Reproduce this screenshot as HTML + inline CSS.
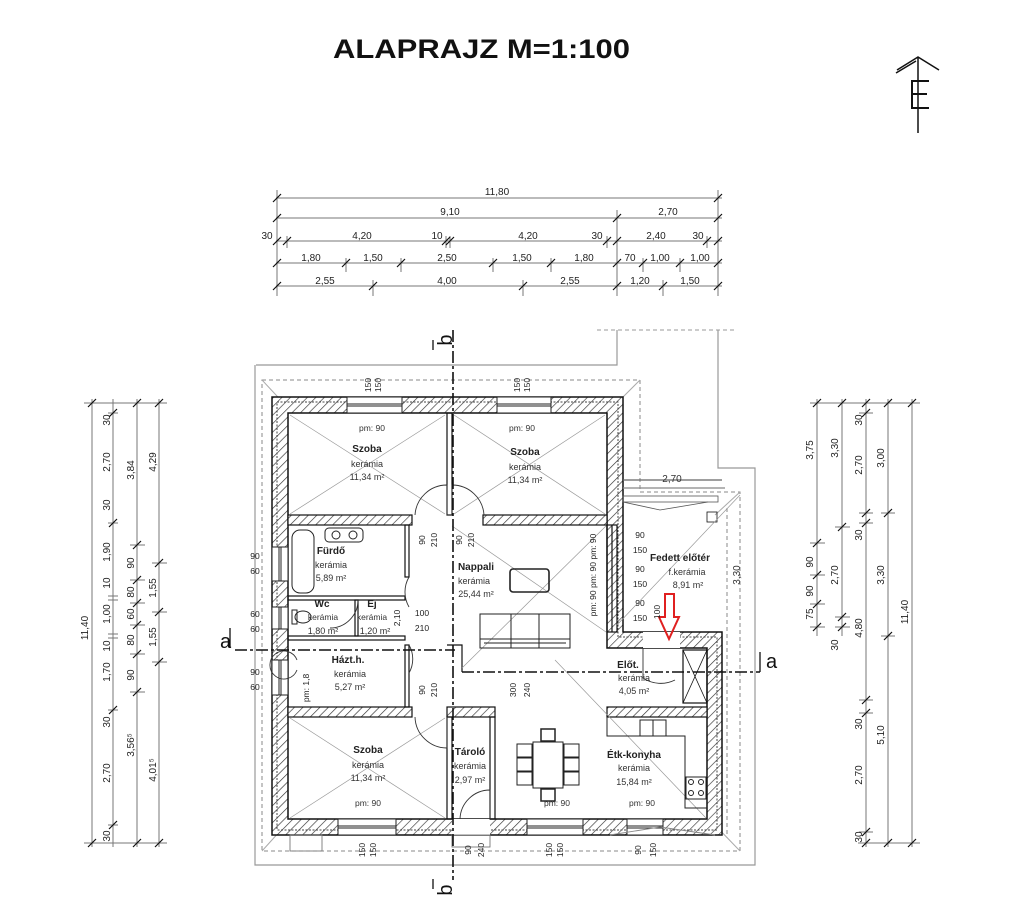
<!DOCTYPE html>
<html><head><meta charset="utf-8"><style>
html,body{margin:0;padding:0;background:#fff;}
svg{display:block;}
text{font-family:"Liberation Sans",sans-serif;fill:#222;}
.d{font-size:10px;fill:#333;}
.r{font-size:9px;fill:#333;}
.n{font-size:10px;font-weight:bold;fill:#222;}
.s{font-size:8.5px;fill:#333;}
</style></head><body>
<svg width="1024" height="915" viewBox="0 0 1024 915" xmlns="http://www.w3.org/2000/svg">
<defs>
<pattern id="h" patternUnits="userSpaceOnUse" width="6" height="6" patternTransform="rotate(45)">
<rect width="6" height="6" fill="#fff"/><line x1="0" y1="0" x2="0" y2="6" stroke="#333" stroke-width="1.3"/>
</pattern>
</defs>
<rect width="1024" height="915" fill="#fff"/>
<!-- title -->
<text x="333" y="58" font-size="27" font-weight="bold" textLength="297" lengthAdjust="spacingAndGlyphs" style="fill:#111">ALAPRAJZ M=1:100</text>
<!-- north sign -->
<g stroke="#111" fill="none" stroke-width="2">
<line x1="918" y1="57" x2="918" y2="133" stroke-width="1.5"/>
<polyline points="897,70 918,57 939,70" stroke-width="1.5"/>
<line x1="896" y1="73" x2="916" y2="61" stroke-width="1.5"/>
<polyline points="929,81 912,81 912,108 929,108"/><line x1="912" y1="94" x2="927" y2="94"/>
</g>

<!-- top dims -->
<g stroke="#777" stroke-width="1" fill="none">
<line x1="276" y1="198" x2="722" y2="198"/>
<line x1="276" y1="218" x2="722" y2="218"/>
<line x1="276" y1="241" x2="722" y2="241"/>
<line x1="276" y1="263" x2="722" y2="263"/>
<line x1="276" y1="286" x2="722" y2="286"/>
<line x1="277" y1="190" x2="277" y2="296"/><line x1="718" y1="190" x2="718" y2="296"/>
<line x1="617" y1="210" x2="617" y2="296"/>
<line x1="287" y1="236" x2="287" y2="248"/><line x1="446" y1="236" x2="446" y2="248"/><line x1="450" y1="236" x2="450" y2="248"/><line x1="607" y1="236" x2="607" y2="248"/><line x1="707" y1="236" x2="707" y2="248"/>
<line x1="346" y1="258" x2="346" y2="272"/><line x1="401" y1="258" x2="401" y2="272"/><line x1="493" y1="258" x2="493" y2="272"/><line x1="551" y1="258" x2="551" y2="272"/><line x1="643" y1="258" x2="643" y2="272"/><line x1="680" y1="258" x2="680" y2="272"/>
<line x1="373" y1="280" x2="373" y2="296"/><line x1="523" y1="280" x2="523" y2="296"/><line x1="663" y1="280" x2="663" y2="296"/>
</g>
<g stroke="#111" stroke-width="1.2">
<path d="M273,202l8,-8M714,202l8,-8M273,222l8,-8M613,222l8,-8M714,222l8,-8M273,245l8,-8M283,245l8,-8M442,245l8,-8M446,245l8,-8M603,245l8,-8M613,245l8,-8M703,245l8,-8M714,245l8,-8M273,267l8,-8M342,267l8,-8M397,267l8,-8M489,267l8,-8M547,267l8,-8M613,267l8,-8M639,267l8,-8M676,267l8,-8M714,267l8,-8M273,290l8,-8M369,290l8,-8M519,290l8,-8M613,290l8,-8M659,290l8,-8M714,290l8,-8"/>
</g>
<g class="d" text-anchor="middle">
<text x="497" y="195">11,80</text>
<text x="450" y="215">9,10</text><text x="668" y="215">2,70</text>
<text x="267" y="239">30</text><text x="362" y="239">4,20</text><text x="437" y="239">10</text><text x="528" y="239">4,20</text><text x="597" y="239">30</text><text x="656" y="239">2,40</text><text x="698" y="239">30</text>
<text x="311" y="261">1,80</text><text x="373" y="261">1,50</text><text x="447" y="261">2,50</text><text x="522" y="261">1,50</text><text x="584" y="261">1,80</text><text x="630" y="261">70</text><text x="660" y="261">1,00</text><text x="700" y="261">1,00</text>
<text x="325" y="284">2,55</text><text x="447" y="284">4,00</text><text x="570" y="284">2,55</text><text x="640" y="284">1,20</text><text x="690" y="284">1,50</text>
</g>

<!-- left dims -->
<g stroke="#777" stroke-width="1">
<line x1="92" y1="399" x2="92" y2="847"/><line x1="113" y1="399" x2="113" y2="847"/><line x1="137" y1="399" x2="137" y2="847"/><line x1="159" y1="399" x2="159" y2="847"/>
<line x1="84" y1="403" x2="167" y2="403"/><line x1="84" y1="843" x2="167" y2="843"/>
<line x1="108" y1="413" x2="118" y2="413"/><line x1="108" y1="523" x2="118" y2="523"/><line x1="108" y1="596" x2="118" y2="596"/><line x1="108" y1="600" x2="118" y2="600"/><line x1="108" y1="634" x2="118" y2="634"/><line x1="108" y1="638" x2="118" y2="638"/><line x1="108" y1="710" x2="118" y2="710"/><line x1="108" y1="825" x2="118" y2="825"/>
<line x1="130" y1="545" x2="145" y2="545"/><line x1="130" y1="580" x2="145" y2="580"/><line x1="130" y1="603" x2="145" y2="603"/><line x1="130" y1="625" x2="145" y2="625"/><line x1="130" y1="654" x2="145" y2="654"/><line x1="130" y1="692" x2="145" y2="692"/>
<line x1="152" y1="563" x2="167" y2="563"/><line x1="152" y1="612" x2="167" y2="612"/><line x1="152" y1="662" x2="167" y2="662"/>
</g>
<g stroke="#111" stroke-width="1.2">
<path d="M88,407l8,-8M88,847l8,-8M109,417l8,-8M109,527l8,-8M109,714l8,-8M109,829l8,-8M133,407l8,-8M133,847l8,-8M155,407l8,-8M155,847l8,-8M133,549l8,-8M133,584l8,-8M133,607l8,-8M133,629l8,-8M133,658l8,-8M133,696l8,-8M155,567l8,-8M155,616l8,-8M155,666l8,-8"/>
</g>
<g class="d" text-anchor="middle">
<text transform="translate(88,628) rotate(-90)">11,40</text>
<text transform="translate(110,420) rotate(-90)">30</text><text transform="translate(110,462) rotate(-90)">2,70</text><text transform="translate(110,505) rotate(-90)">30</text><text transform="translate(110,552) rotate(-90)">1,90</text><text transform="translate(110,583) rotate(-90)">10</text><text transform="translate(110,614) rotate(-90)">1,00</text><text transform="translate(110,646) rotate(-90)">10</text><text transform="translate(110,672) rotate(-90)">1,70</text><text transform="translate(110,722) rotate(-90)">30</text><text transform="translate(110,773) rotate(-90)">2,70</text><text transform="translate(110,836) rotate(-90)">30</text>
<text transform="translate(134,470) rotate(-90)">3,84</text><text transform="translate(134,563) rotate(-90)">90</text><text transform="translate(134,592) rotate(-90)">80</text><text transform="translate(134,614) rotate(-90)">60</text><text transform="translate(134,640) rotate(-90)">80</text><text transform="translate(134,675) rotate(-90)">90</text><text transform="translate(134,745) rotate(-90)">3,56⁵</text>
<text transform="translate(156,462) rotate(-90)">4,29</text><text transform="translate(156,588) rotate(-90)">1,55</text><text transform="translate(156,637) rotate(-90)">1,55</text><text transform="translate(156,770) rotate(-90)">4,01⁵</text>
</g>

<!-- right dims -->
<g stroke="#777" stroke-width="1">
<line x1="817" y1="399" x2="817" y2="636"/><line x1="842" y1="399" x2="842" y2="636"/><line x1="866" y1="399" x2="866" y2="847"/><line x1="888" y1="399" x2="888" y2="847"/><line x1="912" y1="399" x2="912" y2="847"/>
<line x1="810" y1="403" x2="920" y2="403"/><line x1="858" y1="843" x2="920" y2="843"/>
<line x1="810" y1="543" x2="825" y2="543"/><line x1="810" y1="575" x2="825" y2="575"/><line x1="810" y1="604" x2="825" y2="604"/><line x1="810" y1="627" x2="825" y2="627"/>
<line x1="835" y1="527" x2="850" y2="527"/><line x1="835" y1="617" x2="850" y2="617"/><line x1="835" y1="627" x2="850" y2="627"/>
<line x1="859" y1="413" x2="873" y2="413"/><line x1="859" y1="513" x2="873" y2="513"/><line x1="859" y1="523" x2="873" y2="523"/><line x1="859" y1="700" x2="873" y2="700"/><line x1="859" y1="713" x2="873" y2="713"/><line x1="859" y1="832" x2="873" y2="832"/>
<line x1="881" y1="513" x2="895" y2="513"/><line x1="881" y1="636" x2="895" y2="636"/>
</g>
<g stroke="#111" stroke-width="1.2">
<path d="M813,407l8,-8M813,547l8,-8M813,579l8,-8M813,608l8,-8M813,631l8,-8M838,407l8,-8M838,531l8,-8M838,621l8,-8M838,631l8,-8M862,407l8,-8M862,417l8,-8M862,517l8,-8M862,527l8,-8M862,704l8,-8M862,717l8,-8M862,836l8,-8M862,847l8,-8M884,407l8,-8M884,517l8,-8M884,640l8,-8M884,847l8,-8M908,407l8,-8M908,847l8,-8"/>
</g>
<g class="d" text-anchor="middle">
<text transform="translate(813,450) rotate(-90)">3,75</text><text transform="translate(813,562) rotate(-90)">90</text><text transform="translate(813,591) rotate(-90)">90</text><text transform="translate(813,614) rotate(-90)">75</text>
<text transform="translate(838,448) rotate(-90)">3,30</text><text transform="translate(838,575) rotate(-90)">2,70</text><text transform="translate(838,645) rotate(-90)">30</text>
<text transform="translate(862,420) rotate(-90)">30</text><text transform="translate(862,465) rotate(-90)">2,70</text><text transform="translate(862,535) rotate(-90)">30</text><text transform="translate(862,628) rotate(-90)">4,80</text><text transform="translate(862,724) rotate(-90)">30</text><text transform="translate(862,775) rotate(-90)">2,70</text><text transform="translate(862,837) rotate(-90)">30</text>
<text transform="translate(884,458) rotate(-90)">3,00</text><text transform="translate(884,575) rotate(-90)">3,30</text><text transform="translate(884,735) rotate(-90)">5,10</text>
<text transform="translate(908,612) rotate(-90)">11,40</text>
</g>

<!-- plot outline -->
<path d="M256,365 H617 V330 M718,330 V468 H755 V865 H255 V365" fill="none" stroke="#999" stroke-width="1.2"/>
<line x1="597" y1="330" x2="735" y2="330" stroke="#999" stroke-dasharray="4,3"/>
<!-- roof dashed -->
<g fill="none" stroke="#888" stroke-width="1" stroke-dasharray="4,3">
<path d="M262,380 H640 V492 H740 V851 H262 Z"/>
<path d="M290,410 H610 M727,508 V838 M288,820 H710"/>
</g>
<g stroke="#aaa" stroke-width="1" fill="none">
<line x1="262" y1="380" x2="290" y2="410"/><line x1="640" y1="380" x2="610" y2="410"/><line x1="262" y1="851" x2="290" y2="820"/><line x1="740" y1="851" x2="712" y2="822"/>
<line x1="740" y1="492" x2="715" y2="515"/>
</g>

<!-- outer walls -->
<path d="M272,397 H623 V632 H722 V835 H272 Z M288,413 V819 H707 V648 H607 V413 Z" fill="url(#h)" fill-rule="evenodd" stroke="#111" stroke-width="1.5"/>
<path d="M277,402 H618 V637 H717 V830 H277 Z" fill="none" stroke="#444" stroke-width="1" stroke-dasharray="2,1.5"/>
<!-- windows top -->
<g fill="#fff" stroke="#222" stroke-width="1">
<rect x="347" y="397" width="55" height="16"/><line x1="347" y1="404" x2="402" y2="404"/><line x1="347" y1="406" x2="402" y2="406"/>
<rect x="497" y="397" width="54" height="16"/><line x1="497" y1="404" x2="551" y2="404"/><line x1="497" y1="406" x2="551" y2="406"/>
<rect x="272" y="547" width="16" height="34"/><line x1="279" y1="547" x2="279" y2="581"/><line x1="281" y1="547" x2="281" y2="581"/>
<rect x="272" y="607" width="16" height="22"/><line x1="279" y1="607" x2="279" y2="629"/><line x1="281" y1="607" x2="281" y2="629"/>
<rect x="272" y="660" width="16" height="35"/><line x1="279" y1="660" x2="279" y2="695"/><line x1="281" y1="660" x2="281" y2="695"/>
<rect x="338" y="819" width="58" height="16"/><line x1="338" y1="826" x2="396" y2="826"/><line x1="338" y1="828" x2="396" y2="828"/>
<rect x="527" y="819" width="56" height="16"/><line x1="527" y1="826" x2="583" y2="826"/><line x1="527" y1="828" x2="583" y2="828"/>
<rect x="627" y="819" width="36" height="16"/><line x1="627" y1="826" x2="663" y2="826"/><line x1="627" y1="828" x2="663" y2="828"/>
<rect x="452" y="819" width="38" height="16" stroke="none"/>
<rect x="643" y="632" width="37" height="16" stroke="none"/>
</g>
<!-- interior hatched walls -->
<g fill="url(#h)" stroke="#111" stroke-width="1.2">
<rect x="288" y="515" width="124" height="10"/>
<rect x="483" y="515" width="124" height="10"/>
<rect x="288" y="707" width="124" height="10"/>
<rect x="447" y="707" width="48" height="10"/>
<rect x="607" y="707" width="100" height="10"/>
</g>
<g fill="none" stroke="#111" stroke-width="1.2">
<rect x="447" y="413" width="5" height="102"/>
<rect x="405" y="525" width="4" height="52"/><rect x="405" y="645" width="4" height="62"/>
<rect x="288" y="596" width="117" height="4"/>
<rect x="288" y="636" width="117" height="4"/>
<rect x="355" y="600" width="3" height="36"/>
<rect x="447" y="717" width="5" height="102"/><rect x="490" y="717" width="5" height="102"/>
<rect x="607" y="525" width="10" height="107"/>
<line x1="612" y1="525" x2="612" y2="632"/>
<polyline points="447,645 462,645 462,672"/>
<rect x="683" y="650" width="24" height="53"/>
<line x1="683" y1="650" x2="707" y2="703" stroke-width="0.8"/><line x1="707" y1="650" x2="683" y2="703" stroke-width="0.8"/>
<!-- fedett canopy -->
<line x1="623" y1="488" x2="725" y2="488" stroke="#888"/>
<rect x="623" y="496" width="95" height="6" stroke="#555" stroke-width="0.8"/>
<polyline points="623,502 660,510 708,502" stroke="#555" stroke-width="0.8"/>
<rect x="707" y="512" width="10" height="10" stroke-width="0.8"/>
<line x1="623" y1="480" x2="722" y2="480" stroke="#666"/>
</g>
<!-- room diagonals -->
<g stroke="#999" stroke-width="0.7" fill="none">
<line x1="290" y1="415" x2="445" y2="514"/><line x1="445" y1="415" x2="290" y2="514"/>
<line x1="454" y1="415" x2="605" y2="514"/><line x1="605" y1="415" x2="454" y2="514"/>
<line x1="290" y1="718" x2="445" y2="818"/><line x1="445" y1="718" x2="290" y2="818"/>
<line x1="452" y1="526" x2="606" y2="632"/><line x1="606" y1="526" x2="462" y2="668"/>
<line x1="617" y1="625" x2="740" y2="495"/><line x1="555" y1="660" x2="706" y2="818"/>
</g>

<!-- doors -->
<g fill="none" stroke="#333" stroke-width="0.9">
<path d="M447,515 V485 A32,32 0 0 0 415,515"/>
<path d="M452,515 V485 A32,32 0 0 1 484,515"/>
<path d="M409,577 A30,30 0 0 0 409,607"/>
<path d="M409,645 A28,28 0 0 1 409,673"/>
<path d="M447,717 V748 A32,32 0 0 1 415,717"/>
<path d="M490,819 V790 A30,30 0 0 0 460,819"/>
<path d="M643,648 V678 A32,32 0 0 0 675,680"/>
<path d="M358,600 A28,28 0 0 1 330,628"/>
<path d="M297,670 A14,14 0 1 1 297,660"/>
<path d="M610,835 L660,827 L715,835" stroke="#888"/>
<rect x="452" y="835" width="38" height="12" stroke="#777"/>
<rect x="290" y="835" width="32" height="16" stroke="#777"/>
</g>

<!-- furniture -->
<g fill="none" stroke="#222" stroke-width="1">
<rect x="292" y="530" width="22" height="63" rx="8"/>
<rect x="325" y="528" width="38" height="14" rx="4"/><circle cx="336" cy="535" r="4"/><circle cx="353" cy="535" r="4"/>
<ellipse cx="303" cy="617" rx="8" ry="6"/><rect x="292" y="610" width="5" height="14"/>
<rect x="510" y="569" width="39" height="23" rx="3" stroke-width="1.6"/>
<rect x="480" y="614" width="90" height="34"/><line x1="480" y1="639" x2="570" y2="639"/><line x1="484" y1="643" x2="566" y2="643"/>
<line x1="511" y1="614" x2="511" y2="648"/><line x1="539" y1="614" x2="539" y2="648"/>
<rect x="533" y="742" width="30" height="46"/>
<rect x="541" y="729" width="14" height="12" stroke-width="1.5"/><rect x="541" y="789" width="14" height="12" stroke-width="1.5"/>
<rect x="517" y="744" width="15" height="13"/><rect x="517" y="758" width="15" height="13"/><rect x="517" y="772" width="15" height="13"/>
<rect x="564" y="744" width="15" height="13"/><rect x="564" y="758" width="15" height="13"/><rect x="564" y="772" width="15" height="13"/>
<polyline points="607,717 607,736 685,736 685,808 707,808"/>
<rect x="640" y="720" width="26" height="16"/><line x1="653" y1="720" x2="653" y2="736"/>
<rect x="686" y="777" width="20" height="22"/><circle cx="691" cy="782" r="2.5"/><circle cx="701" cy="782" r="2.5"/><circle cx="691" cy="793" r="2.5"/><circle cx="701" cy="793" r="2.5"/>
</g>
<!-- red arrow -->
<path d="M665,594 H674 V617 H679 L669,639 L659,617 H665 Z" fill="none" stroke="#e02020" stroke-width="2"/>

<!-- section lines -->
<g stroke="#111" stroke-width="1.6" fill="none" stroke-dasharray="12,3,3,3">
<line x1="453" y1="330" x2="453" y2="880"/>
<line x1="235" y1="650" x2="455" y2="650"/>
<line x1="462" y1="672" x2="760" y2="672"/>
</g>
<g stroke="#111" stroke-width="1.3">
<line x1="433" y1="340" x2="433" y2="350"/><line x1="433" y1="879" x2="433" y2="889"/>
<line x1="230" y1="628" x2="230" y2="648"/><line x1="760" y1="652" x2="760" y2="672"/>
</g>
<text x="220" y="648" font-size="20" style="fill:#111">a</text>
<text x="766" y="668" font-size="20" style="fill:#111">a</text>
<text transform="translate(452,340) rotate(-90)" font-size="20" text-anchor="middle" style="fill:#111">b</text>
<text transform="translate(452,890) rotate(-90)" font-size="20" text-anchor="middle" style="fill:#111">b</text>

<!-- small opening labels -->
<g class="s" text-anchor="middle">
<text transform="translate(371,385) rotate(-90)">150</text><text transform="translate(381,385) rotate(-90)">150</text>
<text transform="translate(520,385) rotate(-90)">150</text><text transform="translate(530,385) rotate(-90)">150</text>
<text x="255" y="559">90</text><text x="255" y="574">60</text>
<text x="255" y="617">60</text><text x="255" y="632">60</text>
<text x="255" y="675">90</text><text x="255" y="690">60</text>
<text transform="translate(365,850) rotate(-90)">150</text><text transform="translate(376,850) rotate(-90)">150</text>
<text transform="translate(471,850) rotate(-90)">90</text><text transform="translate(484,850) rotate(-90)">240</text>
<text transform="translate(552,850) rotate(-90)">150</text><text transform="translate(563,850) rotate(-90)">150</text>
<text transform="translate(641,850) rotate(-90)">90</text><text transform="translate(656,850) rotate(-90)">150</text>
<text transform="translate(425,540) rotate(-90)">90</text><text transform="translate(437,540) rotate(-90)">210</text>
<text transform="translate(462,540) rotate(-90)">90</text><text transform="translate(474,540) rotate(-90)">210</text>
<text transform="translate(425,690) rotate(-90)">90</text><text transform="translate(437,690) rotate(-90)">210</text>
<text transform="translate(516,690) rotate(-90)">300</text><text transform="translate(530,690) rotate(-90)">240</text>
<text x="422" y="616">100</text><text x="422" y="631">210</text>
<text transform="translate(400,618) rotate(-90)">2,10</text>
<text transform="translate(596,575) rotate(-90)">pm: 90 pm: 90 pm: 90</text>
<text x="640" y="538">90</text><text x="640" y="553">150</text>
<text x="640" y="572">90</text><text x="640" y="587">150</text>
<text x="640" y="606">90</text><text x="640" y="621">150</text>
<text transform="translate(660,612) rotate(-90)">100</text>
<text transform="translate(309,688) rotate(-90)">pm: 1,8</text>
<text x="672" y="482" class="d">2,70</text>
<text transform="translate(740,575) rotate(-90)" class="d">3,30</text>
</g>

<!-- room labels -->
<g text-anchor="middle">
<text class="s" x="372" y="431">pm: 90</text><text class="n" x="367" y="452">Szoba</text><text class="r" x="367" y="467">kerámia</text><text class="r" x="367" y="480">11,34 m²</text>
<text class="s" x="522" y="431">pm: 90</text><text class="n" x="525" y="455">Szoba</text><text class="r" x="525" y="470">kerámia</text><text class="r" x="525" y="483">11,34 m²</text>
<text class="n" x="331" y="554">Fürdő</text><text class="r" x="331" y="568">kerámia</text><text class="r" x="331" y="581">5,89 m²</text>
<text class="n" x="322" y="607">Wc</text><text class="s" x="323" y="620">kerámia</text><text class="r" x="323" y="634">1,80 m²</text>
<text class="n" x="372" y="607">Ej</text><text class="s" x="372" y="620">kerámia</text><text class="r" x="375" y="634">1,20 m²</text>
<text class="n" x="348" y="663">Házt.h.</text><text class="r" x="350" y="677">kerámia</text><text class="r" x="350" y="690">5,27 m²</text>
<text class="n" x="476" y="570">Nappali</text><text class="r" x="474" y="584">kerámia</text><text class="r" x="476" y="597">25,44 m²</text>
<text class="n" x="680" y="561">Fedett előtér</text><text class="r" x="687" y="575">f.kerámia</text><text class="r" x="688" y="588">8,91 m²</text>
<text class="n" x="628" y="668">Előt.</text><text class="r" x="634" y="681">kerámia</text><text class="r" x="634" y="694">4,05 m²</text>
<text class="n" x="368" y="753">Szoba</text><text class="r" x="368" y="768">kerámia</text><text class="r" x="368" y="781">11,34 m²</text><text class="s" x="368" y="806">pm: 90</text>
<text class="n" x="470" y="755">Tároló</text><text class="r" x="470" y="769">kerámia</text><text class="r" x="470" y="783">2,97 m²</text>
<text class="n" x="634" y="758">Étk-konyha</text><text class="r" x="634" y="771">kerámia</text><text class="r" x="634" y="785">15,84 m²</text>
<text class="s" x="557" y="806">pm: 90</text><text class="s" x="642" y="806">pm: 90</text>
</g>
</svg>
</body></html>
